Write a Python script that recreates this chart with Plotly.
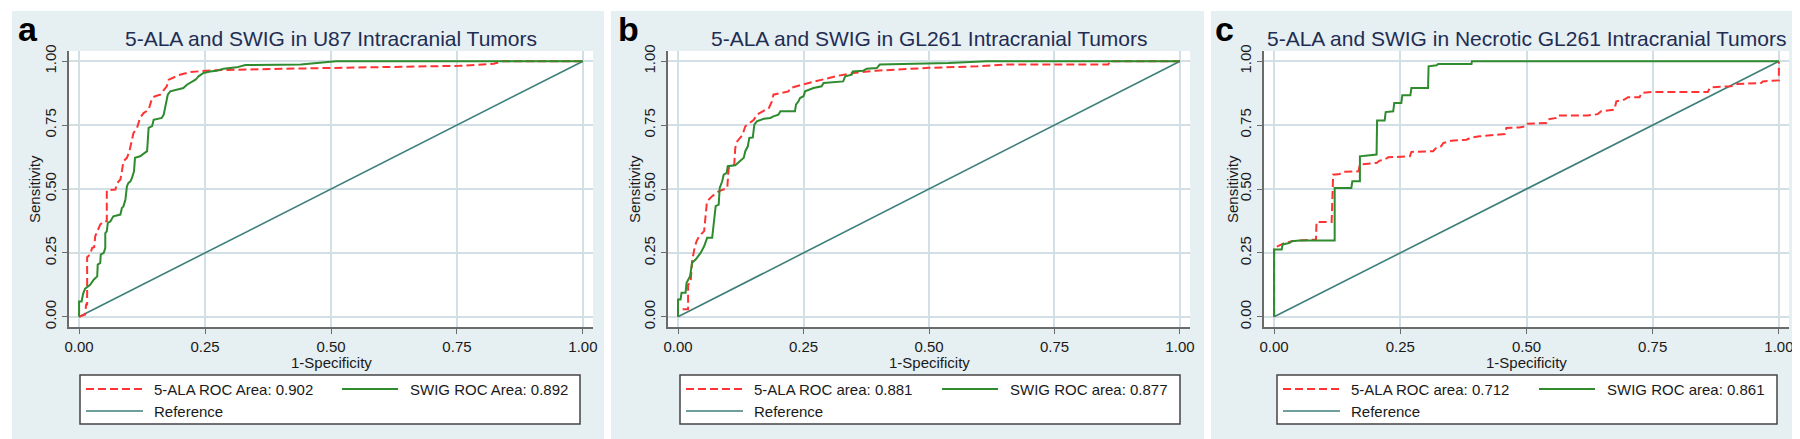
import plotly.graph_objects as go

W, H = 1800, 439

# ---------------- data ----------------
titles = ["5-ALA and SWIG in U87 Intracranial Tumors",
          "5-ALA and SWIG in GL261 Intracranial Tumors",
          "5-ALA and SWIG in Necrotic GL261 Intracranial Tumors"]
panel_letters = ["a", "b", "c"]
ala_labels = ["5-ALA ROC Area: 0.902", "5-ALA ROC area: 0.881", "5-ALA ROC area: 0.712"]
swig_labels = ["SWIG ROC Area: 0.892", "SWIG ROC area: 0.877", "SWIG ROC area: 0.861"]
ref_label = "Reference"
x_title = "1-Specificity"
y_title = "Sensitivity"
tick_vals = [0, 0.25, 0.5, 0.75, 1.0]
tick_text = ["0.00", "0.25", "0.50", "0.75", "1.00"]

# Panel a (U87)
ala_a_fpr = [0, 0.012, 0.014, 0.016, 0.016, 0.022, 0.026, 0.030, 0.032, 0.037, 0.042, 0.049, 0.055, 0.055,
             0.072, 0.076, 0.082, 0.085, 0.088, 0.095, 0.100, 0.105, 0.108, 0.115, 0.121, 0.128, 0.138,
             0.145, 0.151, 0.161, 0.168, 0.174, 0.178, 0.200, 0.221, 0.247, 0.27, 0.45, 0.60, 0.755,
             0.823, 0.84, 1.0]
ala_a_tpr = [0, 0.009, 0.048, 0.048, 0.233, 0.244, 0.27, 0.272, 0.315, 0.335, 0.361, 0.374, 0.374, 0.494,
             0.498, 0.524, 0.537, 0.569, 0.609, 0.622, 0.648, 0.693, 0.719, 0.739, 0.778, 0.797, 0.81,
             0.856, 0.863, 0.869, 0.889, 0.902, 0.928, 0.947, 0.958, 0.963, 0.965, 0.972, 0.976, 0.982,
             0.99, 1.0, 1.0]
swig_a_fpr = [0, 0, 0.005, 0.008, 0.012, 0.016, 0.022, 0.029, 0.036, 0.037, 0.042, 0.043, 0.049, 0.052,
              0.052, 0.055, 0.057, 0.062, 0.065, 0.068, 0.082, 0.085, 0.088, 0.092, 0.095, 0.098, 0.102,
              0.105, 0.109, 0.111, 0.121, 0.135, 0.138, 0.145, 0.148, 0.164, 0.168, 0.172, 0.176, 0.181,
              0.194, 0.207, 0.214, 0.221, 0.231, 0.234, 0.237, 0.247, 0.26, 0.273, 0.287, 0.313, 0.33,
              0.44, 0.47, 0.51, 1.0]
swig_a_tpr = [0, 0.06, 0.06, 0.09, 0.11, 0.115, 0.125, 0.145, 0.158, 0.204, 0.211, 0.243, 0.25, 0.269,
              0.327, 0.334, 0.367, 0.373, 0.386, 0.393, 0.40, 0.426, 0.432, 0.459, 0.511, 0.524, 0.53,
              0.543, 0.569, 0.622, 0.628, 0.648, 0.739, 0.746, 0.771, 0.778, 0.791, 0.824, 0.869, 0.882,
              0.889, 0.895, 0.908, 0.915, 0.928, 0.934, 0.941, 0.954, 0.96, 0.963, 0.971, 0.976, 0.985,
              0.987, 0.993, 1.0, 1.0]

# Panel b (GL261)
ala_b_fpr = [0, 0, 0.02, 0.02, 0.025, 0.028, 0.033, 0.037, 0.042, 0.052, 0.057, 0.058, 0.068, 0.081,
             0.098, 0.101, 0.112, 0.114, 0.118, 0.128, 0.134, 0.151, 0.157, 0.174, 0.181, 0.187, 0.19,
             0.22, 0.224, 0.247, 0.263, 0.286, 0.296, 0.316, 0.349, 0.395, 0.5, 0.596, 0.652, 0.857,
             0.861, 1.0]
ala_b_tpr = [0, 0.029, 0.029, 0.126, 0.133, 0.218, 0.27, 0.296, 0.315, 0.335, 0.439, 0.452, 0.472, 0.491,
             0.504, 0.582, 0.595, 0.661, 0.687, 0.71, 0.745, 0.771, 0.791, 0.81, 0.817, 0.843, 0.869,
             0.882, 0.895, 0.908, 0.916, 0.928, 0.934, 0.942, 0.954, 0.963, 0.974, 0.98, 0.987, 0.987,
             1.0, 1.0]
swig_b_fpr = [0, 0, 0.005, 0.007, 0.015, 0.017, 0.024, 0.028, 0.035, 0.045, 0.052, 0.058, 0.068, 0.071,
              0.075, 0.081, 0.083, 0.088, 0.091, 0.097, 0.099, 0.114, 0.128, 0.131, 0.134, 0.139, 0.142,
              0.149, 0.152, 0.157, 0.171, 0.184, 0.19, 0.2, 0.204, 0.233, 0.235, 0.24, 0.243, 0.25,
              0.253, 0.27, 0.286, 0.29, 0.329, 0.333, 0.346, 0.348, 0.369, 0.376, 0.396, 0.402, 0.539,
              0.615, 1.0]
swig_b_tpr = [0, 0.068, 0.068, 0.094, 0.094, 0.133, 0.159, 0.211, 0.224, 0.25, 0.276, 0.309, 0.309, 0.374,
              0.433, 0.439, 0.504, 0.53, 0.556, 0.563, 0.589, 0.593, 0.615, 0.622, 0.648, 0.667, 0.70,
              0.702, 0.752, 0.765, 0.775, 0.778, 0.784, 0.791, 0.804, 0.804, 0.83, 0.843, 0.856, 0.863,
              0.882, 0.895, 0.902, 0.915, 0.921, 0.941, 0.947, 0.96, 0.963, 0.971, 0.973, 0.987, 0.993,
              1.0, 1.0]

# Panel c (necrotic GL261)
ala_c_fpr = [0, 0, 0.015, 0.021, 0.035, 0.051, 0.083, 0.084, 0.114, 0.117, 0.13, 0.137, 0.167, 0.17,
             0.203, 0.209, 0.219, 0.226, 0.269, 0.272, 0.315, 0.322, 0.331, 0.335, 0.345, 0.351, 0.381,
             0.391, 0.407, 0.44, 0.457, 0.46, 0.486, 0.496, 0.499, 0.539, 0.542, 0.559, 0.562, 0.621,
             0.641, 0.648, 0.674, 0.678, 0.694, 0.701, 0.724, 0.728, 0.753, 0.859, 0.864, 0.905,
             0.918, 0.965, 0.968, 1.0, 1.0]
ala_c_tpr = [0, 0.27, 0.283, 0.289, 0.296, 0.298, 0.302, 0.371, 0.371, 0.556, 0.559, 0.567, 0.569, 0.596,
             0.602, 0.611, 0.615, 0.624, 0.628, 0.645, 0.648, 0.663, 0.667, 0.68, 0.684, 0.689, 0.693,
             0.702, 0.706, 0.713, 0.715, 0.739, 0.741, 0.745, 0.755, 0.758, 0.772, 0.778, 0.788, 0.788,
             0.793, 0.804, 0.81, 0.843, 0.85, 0.859, 0.859, 0.876, 0.88, 0.88, 0.898, 0.902,
             0.911, 0.915, 0.921, 0.925, 1.0]
swig_c_fpr = [0, 0, 0.015, 0.017, 0.031, 0.035, 0.051, 0.12, 0.12, 0.153, 0.155, 0.17, 0.17, 0.186, 0.203,
              0.204, 0.219, 0.221, 0.236, 0.238, 0.252, 0.254, 0.27, 0.272, 0.305, 0.306, 0.322, 0.325,
              0.391, 0.392, 1.0]
swig_c_tpr = [0, 0.263, 0.263, 0.283, 0.289, 0.296, 0.298, 0.298, 0.504, 0.504, 0.53, 0.53, 0.628, 0.632,
              0.635, 0.768, 0.768, 0.801, 0.804, 0.837, 0.837, 0.867, 0.867, 0.895, 0.895, 0.98, 0.984,
              0.989, 0.989, 1.0, 1.0]
ref_x = [0, 1]
ref_y = [0, 1]

ala_fpr = [ala_a_fpr, ala_b_fpr, ala_c_fpr]
ala_tpr = [ala_a_tpr, ala_b_tpr, ala_c_tpr]
swig_fpr = [swig_a_fpr, swig_b_fpr, swig_c_fpr]
swig_tpr = [swig_a_tpr, swig_b_tpr, swig_c_tpr]

# ---------------- styling / layout ----------------
FONT = "Liberation Sans, Arial, sans-serif"
BG = "#E6EFF2"
GRID = "#D2DFE4"
AXIS = "#6B6B6B"
RED = "#FF3333"
GREEN = "#2E8B2E"
TEAL = "#3E7F7A"
NAVY = "#1F2D52"
TXT = "#1A1A1A"

def px(x):
    return x / W

def py(y):
    return 1 - y / H

panel_rects = [(4, 596), (603, 1196), (1203, 1796)]
panel_top, panel_bot = 3, 435
plot_x = [(61, 585), (660, 1182), (1256, 1781)]
plot_top, plot_bot = 43, 319
legend_left = [72, 672, 1269]
letter_x = [8, 608, 1205]
ytitle_x = [27, 627, 1225]

fig = go.Figure()
shapes = []
annotations = []


def paper_rect(x0, x1, y0, y1, fill):
    return dict(type="rect", xref="paper", yref="paper", x0=px(x0), x1=px(x1), y0=py(y1), y1=py(y0),
                fillcolor=fill, line=dict(width=0), layer="below")


for i in range(3):
    sfx = "" if i == 0 else str(i + 1)
    xref, yref = "x" + sfx, "y" + sfx
    fig.add_trace(go.Scatter(x=ref_x, y=ref_y, mode="lines", xaxis=xref, yaxis=yref,
                             line=dict(color=TEAL, width=1.6), showlegend=False, hoverinfo="skip"))
    fig.add_trace(go.Scatter(x=ala_fpr[i], y=ala_tpr[i], mode="lines", xaxis=xref, yaxis=yref,
                             line=dict(color=RED, width=2, dash="8px,4px"), showlegend=False))
    fig.add_trace(go.Scatter(x=swig_fpr[i], y=swig_tpr[i], mode="lines", xaxis=xref, yaxis=yref,
                             line=dict(color=GREEN, width=2), showlegend=False))

    l, r = plot_x[i]
    fig.update_layout(**{
        "xaxis" + sfx: dict(domain=[px(l), px(r)], range=[-0.02, 1.02], anchor=yref,
                            tickmode="array", tickvals=tick_vals, ticktext=tick_text, ticks="outside", ticklen=5,
                            tickcolor=AXIS, tickwidth=1.3, showline=True, linecolor=AXIS, linewidth=1.5,
                            showgrid=True, gridcolor=GRID, gridwidth=1.5, zeroline=False,
                            tickfont=dict(family=FONT, size=15, color=TXT), fixedrange=True),
        "yaxis" + sfx: dict(domain=[py(plot_bot), py(plot_top)], range=[-0.04, 1.04], anchor=xref,
                            tickmode="array", tickvals=tick_vals, ticktext=tick_text, ticks="outside", ticklen=5,
                            tickcolor=AXIS, tickwidth=1.3, showline=True, linecolor=AXIS, linewidth=1.5,
                            showgrid=True, gridcolor=GRID, gridwidth=1.5, zeroline=False, tickangle=-90,
                            tickfont=dict(family=FONT, size=15, color=TXT), fixedrange=True),
    })

    # light panel frame drawn around (never over) the white plotting area
    a0, a1 = panel_rects[i]
    shapes.append(paper_rect(a0, a1, panel_top, plot_top, BG))
    shapes.append(paper_rect(a0, a1, plot_bot, panel_bot, BG))
    shapes.append(paper_rect(a0, l, plot_top, plot_bot, BG))
    shapes.append(paper_rect(r, a1, plot_top, plot_bot, BG))

    cx = (l + r) / 2
    annotations.append(dict(text=titles[i], x=px(cx), y=py(30), xref="paper", yref="paper",
                            xanchor="center", yanchor="middle", showarrow=False,
                            font=dict(family=FONT, size=21, color=NAVY)))
    annotations.append(dict(text="<b>%s</b>" % panel_letters[i], x=px(letter_x[i]), y=py(21),
                            xref="paper", yref="paper", xanchor="left", yanchor="middle", showarrow=False,
                            font=dict(family=FONT, size=34, color="#000000")))
    annotations.append(dict(text=x_title, x=px(cx), y=py(354), xref="paper", yref="paper",
                            xanchor="center", yanchor="middle", showarrow=False,
                            font=dict(family=FONT, size=15, color=TXT)))
    annotations.append(dict(text=y_title, x=px(ytitle_x[i]), y=py(181), xref="paper", yref="paper",
                            xanchor="center", yanchor="middle", showarrow=False, textangle=-90,
                            font=dict(family=FONT, size=15, color=TXT)))

    # legend box
    L = legend_left[i]
    R = L + 500
    shapes.append(dict(type="rect", xref="paper", yref="paper", x0=px(L), x1=px(R), y0=py(416), y1=py(367),
                       fillcolor="white", line=dict(color="#444444", width=1.5), layer="above"))
    r1, r2 = 381, 403
    shapes.append(dict(type="line", xref="paper", yref="paper", x0=px(L + 6), x1=px(L + 63), y0=py(r1), y1=py(r1),
                       line=dict(color=RED, width=2, dash="8px,4px")))
    shapes.append(dict(type="line", xref="paper", yref="paper", x0=px(L + 262), x1=px(L + 318), y0=py(r1), y1=py(r1),
                       line=dict(color=GREEN, width=2)))
    shapes.append(dict(type="line", xref="paper", yref="paper", x0=px(L + 6), x1=px(L + 63), y0=py(r2), y1=py(r2),
                       line=dict(color=TEAL, width=1.6)))
    for txt, xx, yy in [(ala_labels[i], L + 72, r1), (swig_labels[i], L + 328, r1), (ref_label, L + 72, r2)]:
        annotations.append(dict(text=txt, x=px(xx), y=py(yy), xref="paper", yref="paper",
                                xanchor="left", yanchor="middle", showarrow=False,
                                font=dict(family=FONT, size=15, color=TXT)))

fig.update_layout(template="none", width=W, height=H, margin=dict(l=0, r=0, t=0, b=0),
                  paper_bgcolor="#FFFFFF", plot_bgcolor="#FFFFFF",
                  shapes=shapes, annotations=annotations, showlegend=False,
                  font=dict(family=FONT))

fig.write_html("out.html")
